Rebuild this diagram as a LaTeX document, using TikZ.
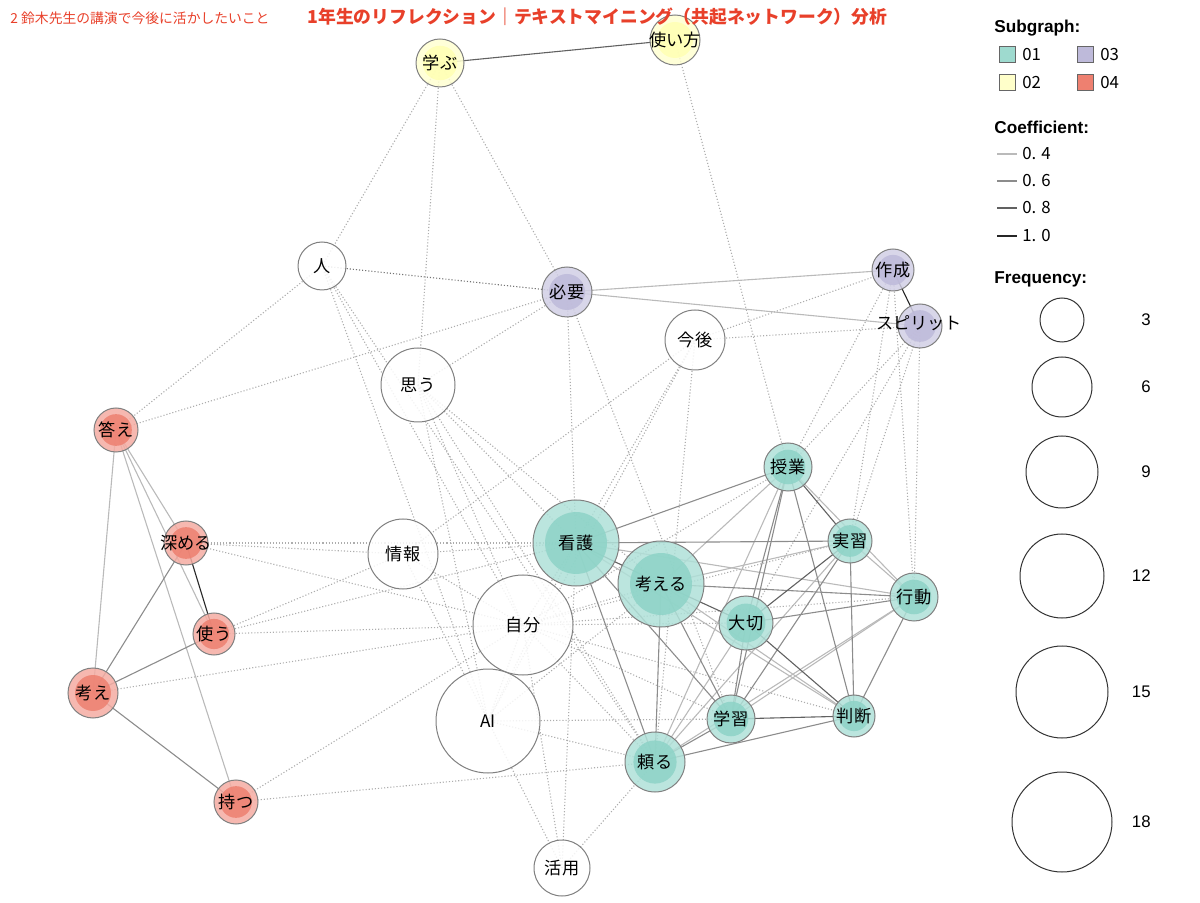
\documentclass[tikz,border=0pt]{standalone}
\usepackage{fontspec}
\setmainfont{Noto Sans CJK JP}
\newfontfamily\legendfont{Liberation Sans}
\usetikzlibrary{calc,backgrounds}
\definecolor{titlered}{RGB}{232,64,42}
\definecolor{sgone}{RGB}{141,211,199}
\definecolor{sgtwo}{RGB}{255,255,179}
\definecolor{sgthree}{RGB}{190,186,218}
\definecolor{sgfour}{RGB}{238,128,112}
\definecolor{rim}{RGB}{128,128,128}
\newcommand\kw[1]{\makebox[0pt]{#1}}
\tikzset{
  word/.style={circle, draw=rim, line width=0.5pt, inner sep=0pt, fill=white,
    fill opacity=0.85, text opacity=1, minimum size=#1pt,
    font=\fontsize{8.6}{9}\selectfont},
  core/.style={path picture={\fill[#1] let \p1=($(path picture bounding box.east)-(path picture bounding box.center)$)
    in (path picture bounding box.center) circle[radius=0.72*\x1];}},
  sg1/.style={fill=sgone!70!white, core=sgone},
  sg2/.style={fill=sgtwo!60!white, core=sgtwo},
  sg3/.style={fill=sgthree!70!white, core=sgthree},
  sg4/.style={fill=sgfour!65!white, core=sgfour},
  w4/.style={draw=black!27, line width=0.55pt},
  w6/.style={draw=black!45, line width=0.55pt},
  w8/.style={draw=black!62, line width=0.55pt},
  w10/.style={draw=black!85, line width=0.55pt},
  co/.style={draw=black!32, line width=0.55pt, dash pattern=on 0.55pt off 1pt},
  legendbox/.style={rectangle, draw=black!60, line width=0.5pt, minimum size=8pt, inner sep=0pt},
  legendtext/.style={anchor=west, inner sep=0pt, font=\fontsize{8.4}{9}\selectfont},
  legendhead/.style={anchor=west, inner sep=0pt, font=\legendfont\bfseries\fontsize{8.6}{9}\selectfont}
}
\begin{document}
\begin{tikzpicture}[x=0.5pt, y=-0.5pt]
  \useasboundingbox (0,0) rectangle (1200,903);

  % words
  \node[word=24, sg2] (manabu) at (440,63) {\kw{学ぶ}};
  \node[word=25, sg2] (tsukaikata) at (675,40) {\kw{使い方}};
  \node[word=24] (hito) at (322,266) {\kw{人}};
  \node[word=25, sg3] (hitsuyo) at (567,292) {\kw{必要}};
  \node[word=21, sg3] (sakusei) at (893,270) {\kw{作成}};
  \node[word=22, sg3] (spirit) at (920,326) {};
  \node[word=30] (kongo) at (695,340) {\kw{今後}};
  \node[word=37] (omou) at (418,385) {\kw{思う}};
  \node[word=22, sg4] (kotae) at (116,430) {\kw{答え}};
  \node[word=24, sg1] (jugyo) at (788,467) {\kw{授業}};
  \node[word=22, sg4] (fukameru) at (186,543) {\kw{深める}};
  \node[word=35] (joho) at (403,554) {\kw{情報}};
  \node[word=43, sg1] (kango) at (576,543) {\kw{看護}};
  \node[word=22, sg1] (jisshu) at (850,541) {\kw{実習}};
  \node[word=43, sg1] (kangaeru) at (661,584) {\kw{考える}};
  \node[word=24, sg1] (kodo) at (914,597) {\kw{行動}};
  \node[word=50] (jibun) at (523,625) {\kw{自分}};
  \node[word=27, sg1] (taisetsu) at (746,623) {\kw{大切}};
  \node[word=21, sg4] (tsukau) at (214,634) {\kw{使う}};
  \node[word=25, sg4] (kangae) at (93,693) {\kw{考え}};
  \node[word=52] (ai) at (488,721) {\kw{AI}};
  \node[word=24, sg1] (gakushu) at (731,719) {\kw{学習}};
  \node[word=21, sg1] (handan) at (854,716) {\kw{判断}};
  \node[word=30, sg1] (tayoru) at (655,762) {\kw{頼る}};
  \node[word=22, sg4] (motsu) at (236,802) {\kw{持つ}};
  \node[word=28] (katsuyo) at (562,868) {\kw{活用}};
  \node[font=\fontsize{8.6}{9}\selectfont] (spiritlabel) at (919,323) {スピリット};

  \begin{scope}[on background layer]
    \foreach \a/\b in {manabu/hito, manabu/omou, manabu/hitsuyo, tsukaikata/jugyo,
        hito/kotae, hito/ai, hito/jibun, hito/tayoru, kotae/hitsuyo,
        fukameru/joho, fukameru/kango, fukameru/jibun, tsukau/joho, tsukau/kango, tsukau/jibun,
        kangae/jibun, motsu/jibun, motsu/tayoru,
        omou/hitsuyo, omou/kango, omou/kangaeru, omou/jibun, omou/ai, omou/tayoru,
        joho/kango, joho/jibun, joho/kongo, joho/ai, hitsuyo/kango, hitsuyo/gakushu,
        kongo/spirit, kongo/sakusei, kongo/kango, kongo/ai, kongo/tayoru,
        sakusei/jugyo, sakusei/jisshu, sakusei/kodo, spirit/jugyo, spirit/jisshu, spirit/kodo, spirit/taisetsu,
        jibun/kangaeru, jibun/jugyo, jibun/jisshu, jibun/kodo, jibun/taisetsu, jibun/gakushu,
        jibun/handan, jibun/tayoru, jibun/ai, jibun/kango,
        ai/kango, ai/kangaeru, ai/tayoru, ai/gakushu, ai/katsuyo,
        katsuyo/tayoru, katsuyo/jibun, katsuyo/kango}
      \draw[co] (\a.center) -- (\b.center);
    \draw[co, draw=black!55] (hito.center) -- (hitsuyo.center);
    \foreach \a/\b in {kotae/kangae, kotae/fukameru, kotae/tsukau, kotae/motsu,
        hitsuyo/sakusei, hitsuyo/spirit, kango/kodo, kango/handan, kangaeru/jugyo, kangaeru/jisshu,
        kangaeru/handan, jugyo/tayoru, jugyo/kodo, jisshu/kodo, jisshu/tayoru, kodo/gakushu,
        taisetsu/tayoru, kodo/tayoru}
      \draw[w4] (\a.center) -- (\b.center);
    \foreach \a/\b in {fukameru/kangae, tsukau/kangae, kangae/motsu,
        kango/jugyo, kango/jisshu, kango/tayoru, kango/gakushu, kangaeru/tayoru, kangaeru/gakushu,
        kangaeru/kodo, jugyo/taisetsu, jugyo/gakushu, jugyo/handan, jisshu/handan, jisshu/gakushu,
        kodo/taisetsu, kodo/handan, taisetsu/gakushu, gakushu/tayoru, handan/tayoru}
      \draw[w6] (\a.center) -- (\b.center);
    \foreach \a/\b in {manabu/tsukaikata, kango/kangaeru, kangaeru/taisetsu, jugyo/jisshu,
        jisshu/taisetsu, taisetsu/handan, gakushu/handan}
      \draw[w8] (\a.center) -- (\b.center);
    \foreach \a/\b in {fukameru/tsukau, sakusei/spirit}
      \draw[w10] (\a.center) -- (\b.center);
  \end{scope}

  % titles
  \node[anchor=west, inner sep=0pt, text=titlered, font=\fontsize{6.9}{8}\selectfont] (subtitle) at (10,18) {2 鈴木先生の講演で今後に活かしたいこと};
  \node[anchor=west, inner sep=0pt, text=titlered, font=\bfseries\fontsize{8.9}{10}\selectfont] (title) at (307,17) {1年生のリフレクション｜テキストマイニング（共起ネットワーク）分析};

  % legend: subgraph
  \node[legendhead] (sghead) at (994,28) {Subgraph:};
  \node[legendbox, fill=sgone!85!white] (sqone) at (1007,55) {};
  \node[legendbox, fill=sgthree] (sqthree) at (1085,55) {};
  \node[legendbox, fill=sgtwo!70!white] (sqtwo) at (1007,83) {};
  \node[legendbox, fill=sgfour] (sqfour) at (1085,83) {};
  \node[legendtext] at (1022,55) {01};
  \node[legendtext] at (1100,55) {03};
  \node[legendtext] at (1022,83) {02};
  \node[legendtext] at (1100,83) {04};

  % legend: coefficient
  \node[legendhead] (cohead) at (994,127) {Coefficient:};
  \foreach \y/\s/\t in {154/w4/0. 4, 181/w6/0. 6, 208/w8/0. 8, 236/w10/1. 0} {
    \draw[\s, line width=0.7pt] (997,\y) -- (1017,\y);
    \node[legendtext] at (1022,\y) {\t};
  }

  % legend: frequency
  \node[legendhead] (frhead) at (994,279) {Frequency:};
  \foreach \y/\r/\t in {320/22/3, 387/30/6, 472/36/9, 576/42/12, 692/46/15, 822/50/18} {
    \draw[black!80, line width=0.5pt] (1062,\y) circle[radius=\r];
    \node[anchor=east, inner sep=0pt, font=\legendfont\fontsize{8.4}{9}\selectfont] at (1151,\y) {\t};
  }
\end{tikzpicture}
\end{document}
